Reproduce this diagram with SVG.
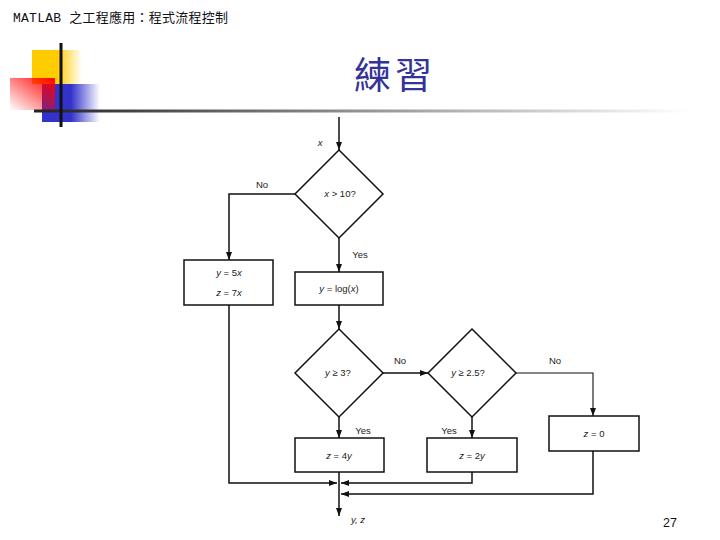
<svg xmlns="http://www.w3.org/2000/svg" width="720" height="540" viewBox="0 0 720 540">
<defs>
<linearGradient id="gY" x1="0" y1="0" x2="1" y2="0"><stop offset="0" stop-color="#FFCC00"/><stop offset="0.5" stop-color="#FFCC00"/><stop offset="1" stop-color="#FFCC00" stop-opacity="0"/></linearGradient>
<linearGradient id="gB" x1="0" y1="0" x2="1" y2="0"><stop offset="0" stop-color="#3333CC"/><stop offset="0.5" stop-color="#3333CC"/><stop offset="1" stop-color="#3333CC" stop-opacity="0"/></linearGradient>
<linearGradient id="gR" x1="1" y1="0" x2="0" y2="1"><stop offset="0" stop-color="#FF0000"/><stop offset="1" stop-color="#FF0000" stop-opacity="0"/></linearGradient>
<linearGradient id="gL" x1="0" y1="0" x2="1" y2="0"><stop offset="0" stop-color="#222222"/><stop offset="0.45" stop-color="#888888"/><stop offset="1" stop-color="#FFFFFF"/></linearGradient>
<marker id="ah" markerUnits="userSpaceOnUse" markerWidth="8" markerHeight="6" refX="8" refY="3" orient="auto"><path d="M0,0 L8,3 L0,6 z" fill="#111"/></marker>
<style>
.ln{fill:none;stroke:#111;stroke-width:1.5}
.thin{fill:none;stroke:#111;stroke-width:1.1}
.bx{fill:#fff;stroke:#111;stroke-width:1.5}
.t{font-family:"Liberation Sans",Arial,sans-serif;font-size:9.5px;fill:#222;text-anchor:middle}
.i{font-style:italic}
</style>
</defs>
<rect width="720" height="540" fill="#fff"/>
<g id="decoration">
<rect x="32" y="50" width="50" height="34" fill="url(#gY)"/>
<rect x="42" y="84" width="58" height="38" fill="url(#gB)"/>
<rect x="10" y="78" width="45" height="32" fill="url(#gR)"/>
<rect x="34" y="109.5" width="656" height="3" fill="url(#gL)"/>
<rect x="59.5" y="43" width="3" height="84" fill="#111"/>
</g>
<text x="13" y="22" font-family="'Liberation Mono','Noto Sans CJK TC',monospace" font-size="13" fill="#111" textLength="215" lengthAdjust="spacing">MATLAB 之工程應用：程式流程控制</text>
<text x="354" y="89" font-family="'Noto Sans CJK TC','Liberation Serif',serif" font-size="37" fill="#333399" letter-spacing="4">練習</text>
<text x="670" y="527" font-family="'Liberation Sans',Arial,sans-serif" font-size="12.5" fill="#111" text-anchor="middle">27</text>
<g id="connectors">
<line class="ln" x1="339" y1="117" x2="339" y2="150" marker-end="url(#ah)"/>
<polyline class="ln" points="295,194 229,194 229,260" marker-end="url(#ah)"/>
<line class="ln" x1="339" y1="238" x2="339" y2="272" marker-end="url(#ah)"/>
<line class="ln" x1="339" y1="305" x2="339" y2="329" marker-end="url(#ah)"/>
<line class="ln" x1="383" y1="373" x2="428" y2="373" marker-end="url(#ah)"/>
<polyline class="thin" points="516,373 593,373 593,416" marker-end="url(#ah)"/>
<line class="ln" x1="339" y1="417" x2="339" y2="438" marker-end="url(#ah)"/>
<line class="ln" x1="472" y1="417" x2="472" y2="438" marker-end="url(#ah)"/>
<polyline class="ln" points="229,305 229,483 337,483" marker-end="url(#ah)"/>
<polyline class="ln" points="472,472 472,483 341,483" marker-end="url(#ah)"/>
<polyline class="ln" points="593,451 593,494 341,494" marker-end="url(#ah)"/>
<line class="ln" x1="339" y1="472" x2="339" y2="516" marker-end="url(#ah)"/>
<text class="t i" x="320" y="146">x</text>
<text class="t" x="262" y="188">No</text>
<text class="t" x="360" y="258">Yes</text>
<text class="t" x="400" y="364">No</text>
<text class="t" x="555" y="364">No</text>
<text class="t" x="363" y="434">Yes</text>
<text class="t" x="449" y="434">Yes</text>
<text class="t i" x="358" y="523">y, z</text>
</g>
<g id="d1">
<polygon class="bx" points="339,150 383,194 339,238 295,194"/>
<text class="t" x="340" y="197"><tspan class="i">x</tspan> &gt; 10?</text>
</g>
<g id="boxA">
<rect class="bx" x="184" y="260" width="89" height="45"/>
<text class="t" x="229" y="276"><tspan class="i">y</tspan> = 5<tspan class="i">x</tspan></text>
<text class="t" x="229" y="296"><tspan class="i">z</tspan> = 7<tspan class="i">x</tspan></text>
</g>
<g id="boxB">
<rect class="bx" x="295" y="272" width="88" height="33"/>
<text class="t" x="339" y="292"><tspan class="i">y</tspan> = log(<tspan class="i">x</tspan>)</text>
</g>
<g id="d2">
<polygon class="bx" points="339,329 383,373 339,417 295,373"/>
<text class="t" x="338" y="376"><tspan class="i">y</tspan> ≥ 3?</text>
</g>
<g id="d3">
<polygon class="bx" points="472,329 516,373 472,417 428,373"/>
<text class="t" x="468" y="376"><tspan class="i">y</tspan> ≥ 2.5?</text>
</g>
<g id="boxZ0">
<rect class="bx" x="549" y="416" width="90" height="35"/>
<text class="t" x="594" y="437"><tspan class="i">z</tspan> = 0</text>
</g>
<g id="boxZ4">
<rect class="bx" x="295" y="438" width="89" height="34"/>
<text class="t" x="339" y="459"><tspan class="i">z</tspan> = 4<tspan class="i">y</tspan></text>
</g>
<g id="boxZ2">
<rect class="bx" x="427" y="438" width="90" height="34"/>
<text class="t" x="472" y="459"><tspan class="i">z</tspan> = 2<tspan class="i">y</tspan></text>
</g>
</svg>
